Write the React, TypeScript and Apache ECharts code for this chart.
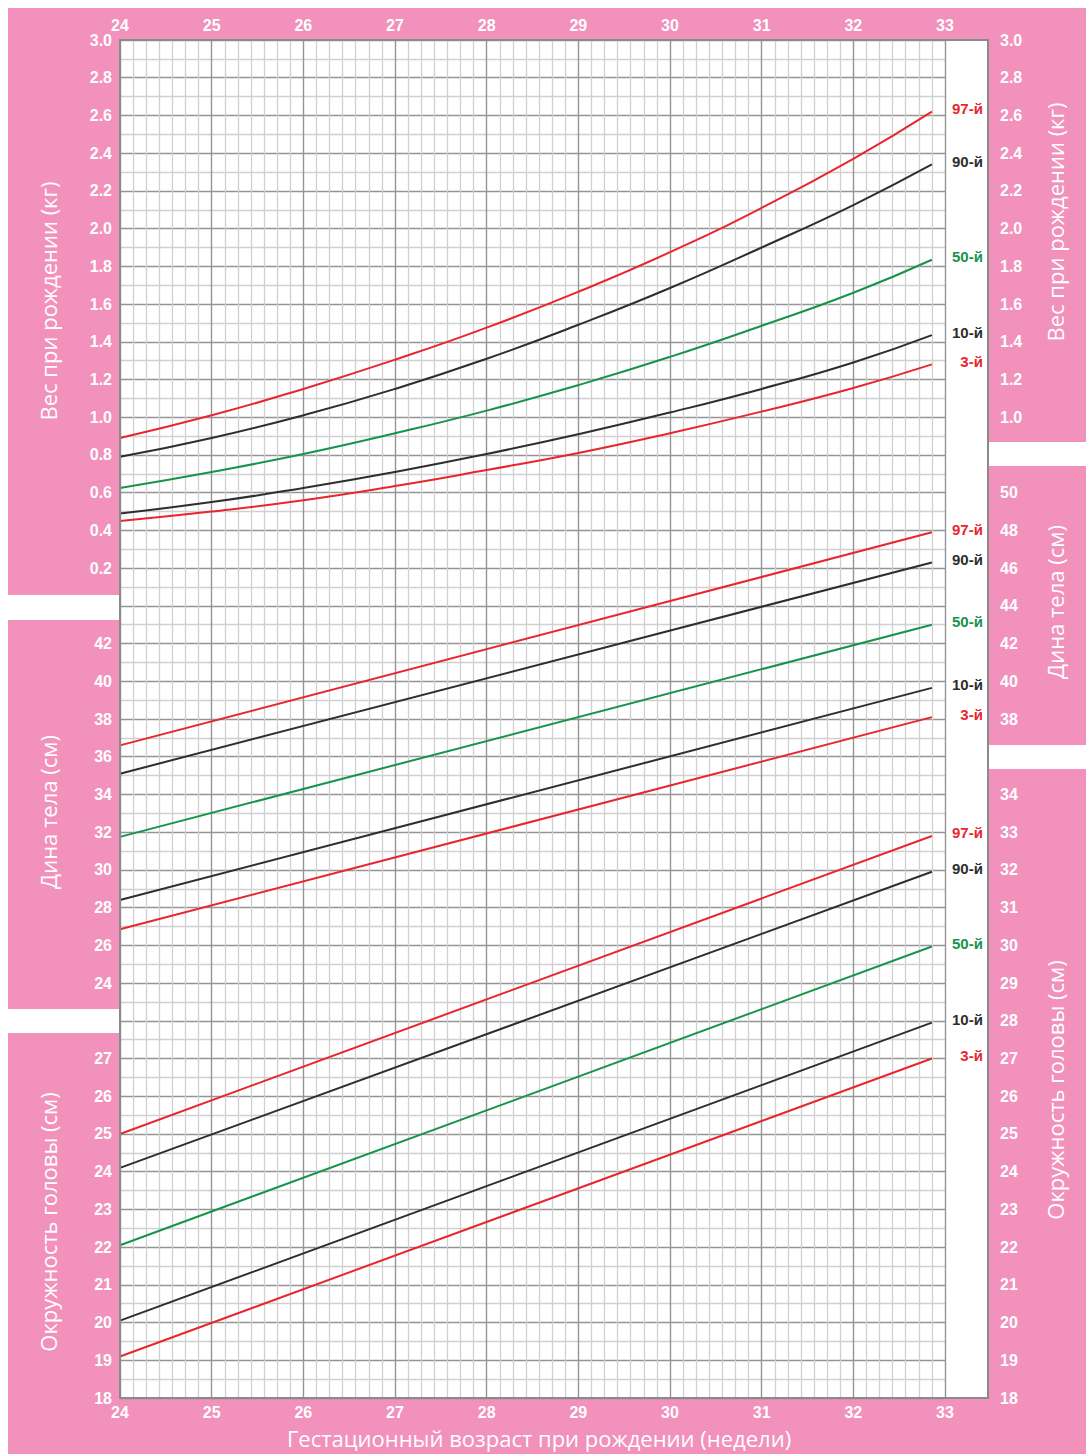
import React, { useEffect, useRef } from 'react';
import * as echarts from 'echarts';

const PINK = '#f291bb';
const RED = '#e8262d';
const DARK = '#2e2e2e';
const GREEN = '#17944a';
const LABEL_FONT = "'Liberation Sans Narrow', 'Liberation Sans', 'Open Sans', sans-serif";
const TITLE_FONT = "'Open Sans', 'Noto Sans', sans-serif";

// gestational age in weeks (last point = 32 weeks 6 days)
const weightWeeks = [24, 25, 26, 27, 28, 29, 30, 31, 32, 32.857];
const weight97 = [0.89, 1.01, 1.15, 1.305, 1.475, 1.665, 1.875, 2.11, 2.37, 2.62];
const weight90 = [0.79, 0.89, 1.01, 1.15, 1.31, 1.49, 1.685, 1.9, 2.125, 2.34];
const weight50 = [0.625, 0.71, 0.805, 0.915, 1.035, 1.17, 1.32, 1.485, 1.66, 1.835];
const weight10 = [0.49, 0.55, 0.625, 0.71, 0.805, 0.91, 1.025, 1.15, 1.29, 1.435];
const weight3 = [0.45, 0.5, 0.56, 0.635, 0.72, 0.81, 0.915, 1.03, 1.155, 1.28];

const lineWeeks = [24, 32.857];
const length97 = [36.6, 47.9];
const length90 = [35.1, 46.3];
const length50 = [31.75, 43.0];
const length10 = [28.4, 39.65];
const length3 = [26.85, 38.1];

const head97 = [25.0, 32.9];
const head90 = [24.1, 31.95];
const head50 = [22.05, 29.97];
const head10 = [20.05, 27.95];
const head3 = [19.1, 27.0];

const percentileNames = ['97-й', '90-й', '50-й', '10-й', '3-й'];
const percentileColors = [RED, DARK, GREEN, DARK, RED];

const xTicks = [24, 33];

function makeSeries(xs: number[], ys: number[][], axis: number) {
  return ys.map((vals, i) => ({
    type: 'line',
    yAxisIndex: axis,
    xAxisIndex: 0,
    data: xs.map((x, j) => [x, vals[j]]),
    smooth: axis === 0 ? 0.5 : false,
    symbol: 'none',
    lineStyle: { color: percentileColors[i], width: 2 },
    itemStyle: { color: percentileColors[i] },
    endLabel: {
      show: true,
      formatter: percentileNames[i],
      color: percentileColors[i],
      fontFamily: LABEL_FONT,
      fontWeight: 'bold',
      fontSize: 15,
      align: 'right',
      offset: [43, -3],
    },
    z: 5,
  }));
}

function yAxis(min: number, max: number, interval: number, lo: number, hi: number, right: boolean, dec: number, grid: boolean) {
  return {
    type: 'value',
    min,
    max,
    interval,
    position: right ? 'right' : 'left',
    offset: right ? 43 : 0,
    axisLine: { show: false },
    axisTick: { show: false },
    axisLabel: {
      show: true,
      margin: right ? 12 : 8,
      color: '#ffffff',
      fontFamily: LABEL_FONT,
      fontWeight: 'bold',
      fontSize: 16,
      formatter: (v: number) => (v >= lo - 1e-6 && v <= hi + 1e-6 ? v.toFixed(dec) : ''),
    },
    splitLine: { show: grid, lineStyle: { color: '#959595', width: 1.4 } },
    minorTick: { show: false, splitNumber: 2 },
    minorSplitLine: { show: grid, lineStyle: { color: '#d0d0d0', width: 1.3 } },
  };
}

function xAxis(top: boolean) {
  return {
    type: 'value',
    min: xTicks[0],
    max: xTicks[1],
    interval: 1,
    position: top ? 'top' : 'bottom',
    axisLine: { show: false },
    axisTick: { show: false },
    axisLabel: {
      color: '#ffffff',
      fontFamily: LABEL_FONT,
      fontWeight: 'bold',
      fontSize: 16,
      margin: top ? 7 : 6,
    },
    splitLine: { show: !top, lineStyle: { color: '#959595', width: 1.4 } },
    minorTick: { show: false, splitNumber: 7 },
    minorSplitLine: { show: !top, lineStyle: { color: '#d0d0d0', width: 1.3 } },
  };
}

function pinkRect(x: number, y: number, w: number, h: number) {
  return { type: 'rect', z: -10, shape: { x, y, width: w, height: h }, style: { fill: PINK } };
}

function title(text: string, x: number, y: number) {
  return {
    type: 'text',
    x,
    y,
    rotation: Math.PI / 2,
    z: 10,
    style: {
      text,
      fill: '#ffffff',
      font: `normal 22px ${TITLE_FONT}`,
      textAlign: 'center',
      textVerticalAlign: 'middle',
    },
  };
}

const option = {
  animation: false,
  backgroundColor: '#ffffff',
  grid: { left: 120, top: 40, width: 825, height: 1358 },
  xAxis: [xAxis(false), xAxis(true)],
  yAxis: [
    yAxis(-4.2, 3.0, 0.2, 0.2, 3.0, false, 1, false),
    yAxis(2, 74, 2, 24, 42, false, 0, false),
    yAxis(18, 54, 1, 18, 27, false, 0, true),
    yAxis(-4.2, 3.0, 0.2, 1.0, 3.0, true, 1, false),
    yAxis(2, 74, 2, 38, 50, true, 0, false),
    yAxis(18, 54, 1, 18, 34, true, 0, false),
  ],
  graphic: [
    pinkRect(8, 8, 1078, 32),
    pinkRect(8, 1398, 1078, 56),
    pinkRect(8, 8, 111, 587),
    pinkRect(8, 620, 111, 389),
    pinkRect(8, 1033, 111, 421),
    pinkRect(988, 8, 98, 434),
    pinkRect(988, 466, 98, 279),
    pinkRect(988, 769, 98, 685),
    {
      type: 'rect',
      z: 20,
      shape: { x: 120, y: 40, width: 868, height: 1358 },
      style: { fill: 'none', stroke: '#8a8a8a', lineWidth: 2 },
    },
    {
      type: 'rect',
      z: -5,
      shape: { x: 945, y: 40, width: 43, height: 1358 },
      style: { fill: '#ffffff' },
    },
    title('Вес при рождении (кг)', 48, 301),
    title('Дина тела (см)', 48, 812),
    title('Окружность головы (см)', 48, 1222),
    title('Вес при рождении (кг)', 1055, 222),
    title('Дина тела (см)', 1055, 602),
    title('Окружность головы (см)', 1055, 1090),
    {
      type: 'text',
      x: 539,
      y: 1438,
      z: 10,
      style: {
        text: 'Гестационный возраст при рождении (недели)',
        fill: '#ffffff',
        font: `normal 22px ${TITLE_FONT}`,
        textAlign: 'center',
        textVerticalAlign: 'middle',
      },
    },
  ],
  series: [
    ...makeSeries(weightWeeks, [weight97, weight90, weight50, weight10, weight3], 0),
    ...makeSeries(lineWeeks, [length97, length90, length50, length10, length3], 1),
    ...makeSeries(lineWeeks, [head97, head90, head50, head10, head3], 2),
  ],
};

export default function App() {
  const ref = useRef<HTMLDivElement>(null);
  useEffect(() => {
    document.body.style.margin = '0';
    const chart = echarts.init(ref.current as HTMLDivElement, null, { renderer: 'svg' });
    chart.setOption(option as any);
    return () => chart.dispose();
  }, []);
  return <div ref={ref} style={{ width: 1086, height: 1454 }} />;
}
